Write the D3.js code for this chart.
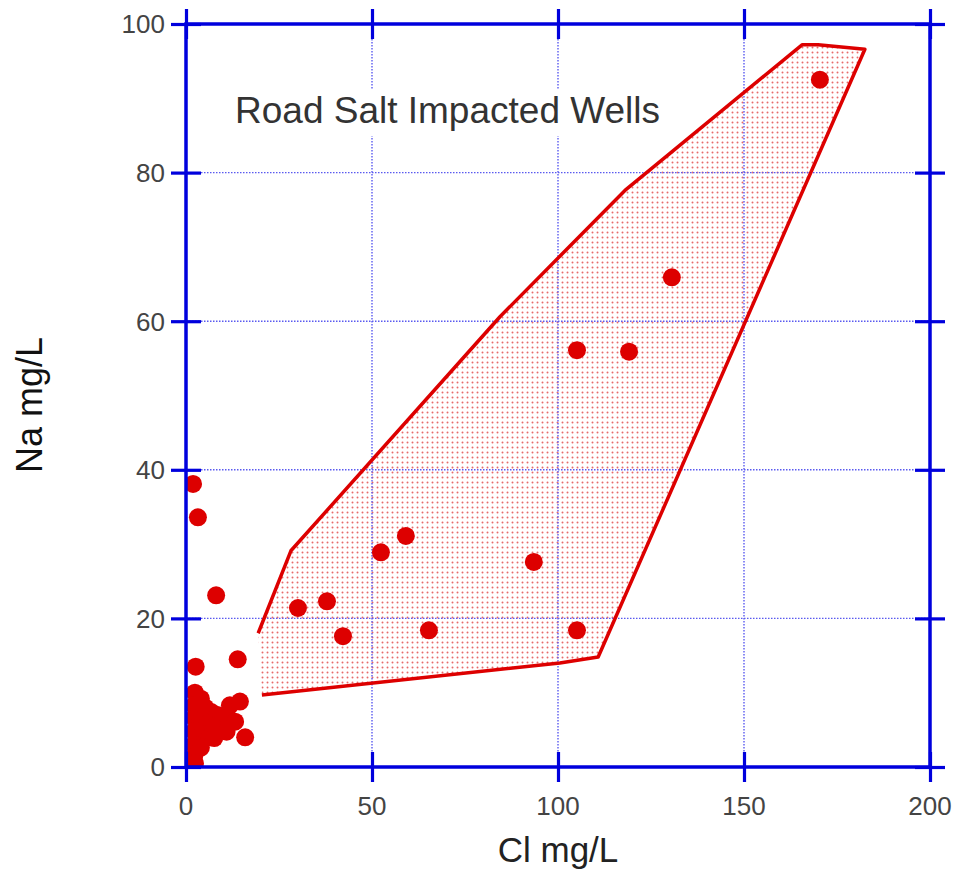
<!DOCTYPE html>
<html>
<head>
<meta charset="utf-8">
<script src="https://cdn.jsdelivr.net/npm/d3@7"></script>
<style>
  body { margin: 0; background: #fff; }
  svg { display: block; font-family: "Liberation Sans", Arial, sans-serif; }
</style>
</head>
<body>
<svg id="chart" width="959" height="886"></svg>
<script>
// ---- data ----
const xTicks = [0, 50, 100, 150, 200];
const yTicks = [0, 20, 40, 60, 80, 100];

// Cl (x) and Na (y) of wells
const clValues = [170.4, 130.6, 105.1, 119.1, 59.1, 52.4, 93.5, 30.1, 37.9, 42.2, 65.3, 105.1,
  2.4, 4.0, 2.2, 5.2, 6.8, 8.5, 2.2, 4.0, 5.8, 7.6, 9.5, 2.2, 4.2, 6.3, 7.6, 2.2, 4.0, 2.2, 2.4,
  10.9, 11.8, 14.5, 10.9, 13.2, 15.9, 13.9, 2.6, 8.1, 1.9, 3.2];
const naValues = [92.5, 65.9, 56.1, 55.9, 31.1, 28.9, 27.6, 21.4, 22.3, 17.6, 18.4, 18.4,
  10.0, 9.2, 8.3, 8.0, 7.4, 7.0, 6.6, 6.3, 5.9, 5.5, 5.0, 4.8, 4.4, 4.0, 3.9, 3.0, 2.6, 1.4, 0.5,
  4.75, 8.3, 8.8, 7.0, 6.1, 4.0, 14.5, 13.5, 23.1, 38.1, 33.6];

// "Road Salt Impacted Wells" envelope
const envCl = [19.4, 28.2, 84.4, 118.0, 130.1, 165.6, 169.9, 182.5, 110.8, 100.5, 20.4];
const envNa = [18.0, 29.1, 60.6, 77.6, 82.6, 97.2, 97.2, 96.6, 14.8, 14.0, 9.7];

const titleText = "Road Salt Impacted Wells";
const xLabel = "Cl mg/L";
const yLabel = "Na mg/L";

// ---- drawing ----
const svg = d3.select("#chart");
const L = 186, R = 930, T = 24, B = 767;
const x = d3.scaleLinear().domain([0, 200]).range([L, R]);
const y = d3.scaleLinear().domain([0, 100]).range([B, T]);
const blue = "#0000dd", red = "#dd0000";

const defs = svg.append("defs");
const pat = defs.append("pattern").attr("id", "dots")
  .attr("patternUnits", "userSpaceOnUse").attr("width", 5).attr("height", 5);
pat.append("circle").attr("cx", 2.5).attr("cy", 2.5).attr("r", 1.0).attr("fill", "#e86a6a");
defs.append("clipPath").attr("id", "plotclip").append("rect")
  .attr("x", L).attr("y", T).attr("width", R - L).attr("height", B - T);

const envPts = envCl.map((c, i) => [x(c), y(envNa[i])]);

// envelope fill
svg.append("path")
  .attr("d", d3.line()(envPts) + "Z")
  .attr("fill", "url(#dots)");

// grid
const grid = svg.append("g").attr("stroke", "#5a5af0").attr("stroke-width", 1.4)
  .attr("stroke-dasharray", "1.5,1.5");
grid.selectAll(".gx").data(xTicks.slice(1, -1)).join("line")
  .attr("x1", d => x(d)).attr("x2", d => x(d)).attr("y1", T).attr("y2", B);
grid.selectAll(".gy").data(yTicks.slice(1, -1)).join("line")
  .attr("y1", d => y(d)).attr("y2", d => y(d)).attr("x1", L).attr("x2", R);

// title with white backing
svg.append("rect").attr("x", 228).attr("y", 90).attr("width", 445).attr("height", 46).attr("fill", "#fff");
svg.append("text").attr("x", 235).attr("y", 123).attr("font-size", 37).attr("fill", "#333")
  .text(titleText);

// envelope outline (open on left side)
svg.append("path")
  .attr("d", d3.line()(envPts))
  .attr("fill", "none").attr("stroke", red).attr("stroke-width", 3.5).attr("stroke-linejoin", "round");

// points
svg.append("g").attr("clip-path", "url(#plotclip)")
  .selectAll("circle").data(clValues.map((c, i) => [c, naValues[i]])).join("circle")
  .attr("cx", d => x(d[0])).attr("cy", d => y(d[1])).attr("r", 9).attr("fill", red);

// axes frame with ticks
const axG = svg.append("g");
const tk = 15;
[[B, d3.axisBottom], [B, d3.axisTop], [T, d3.axisTop], [T, d3.axisBottom]].forEach(([pos, ax]) => {
  axG.append("g").attr("transform", `translate(0,${pos})`)
    .call(ax(x).tickValues(xTicks).tickSize(tk).tickFormat(""));
});
[[L, d3.axisLeft], [L, d3.axisRight], [R, d3.axisLeft], [R, d3.axisRight]].forEach(([pos, ax]) => {
  axG.append("g").attr("transform", `translate(${pos},0)`)
    .call(ax(y).tickValues(yTicks).tickSize(tk).tickFormat(""));
});
axG.selectAll(".domain").remove();
axG.selectAll("line").attr("stroke", blue).attr("stroke-width", 3.2);
axG.append("rect").attr("x", L).attr("y", T).attr("width", R - L).attr("height", B - T)
  .attr("fill", "none").attr("stroke", blue).attr("stroke-width", 3.5);

// tick labels
svg.append("g").selectAll("text").data(xTicks).join("text")
  .attr("x", d => x(d)).attr("y", 815).attr("text-anchor", "middle")
  .attr("font-size", 26).attr("fill", "#444").text(d => d);
svg.append("g").selectAll("text").data(yTicks).join("text")
  .attr("x", 165).attr("y", d => y(d)).attr("dy", "0.36em").attr("text-anchor", "end")
  .attr("font-size", 26).attr("fill", "#444").text(d => d);

// axis titles
svg.append("text").attr("x", (L + R) / 2).attr("y", 862).attr("text-anchor", "middle")
  .attr("font-size", 35).attr("fill", "#222").text(xLabel);
svg.append("text").attr("transform", "translate(42,405) rotate(-90)").attr("text-anchor", "middle")
  .attr("font-size", 36).attr("fill", "#111").text(yLabel);
</script>
</body>
</html>
